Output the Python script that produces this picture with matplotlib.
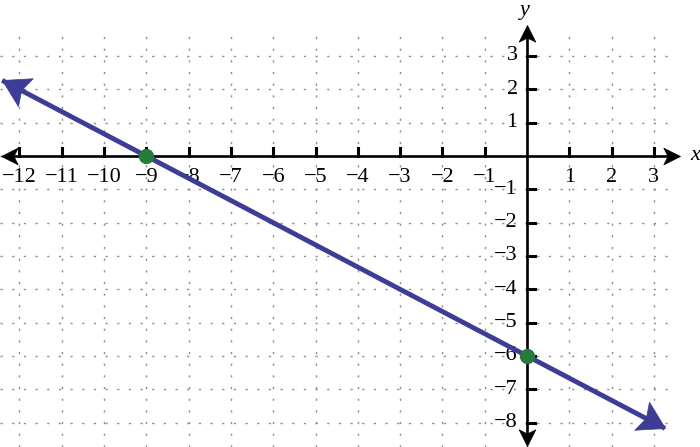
import numpy as np
import matplotlib.pyplot as plt
from matplotlib.path import Path
from matplotlib.markers import MarkerStyle
from matplotlib.transforms import Affine2D

# data
line_x = [-12.41, 3.26]
line_y = [2.27, -8.17]
pts_x = [-9, 0]
pts_y = [0, -6]
xticks = list(range(-12, 4))
yticks = [t for t in range(-8, 4) if t != 0]
xtick_labels = [str(t).replace('-', '\u2212') for t in xticks if t != 0]

LINE_COL = '#3d3d96'
PT_COL = '#267a3a'

fig = plt.figure(figsize=(7, 4.47), dpi=100)
ax = fig.add_axes([0, 0, 1, 1])
ax.set_xlim(-12.46, 4.09)
ax.set_ylim(-8.73, 4.68)
ax.axis('off')

# dotted grid
for xv in xticks:
    ax.plot([xv, xv], [-8.73, 3.63], color='#8e8e8e', lw=1.0, ls=(0, (1.6, 6.8)), zorder=1)
for yv in range(-8, 4):
    ax.plot([-12.46, 3.38], [yv, yv], color='#8e8e8e', lw=1.0, ls=(0, (1.6, 6.8)), zorder=1)

# arrowhead shapes, tip at origin pointing +x
def stealth_path(hw, notch):
    return Path([(0, 0), (-1, hw), (-notch, 0), (-1, -hw), (0, 0)],
                [Path.MOVETO, Path.LINETO, Path.LINETO, Path.LINETO, Path.CLOSEPOLY])

axis_head = stealth_path(0.5, 0.75)
line_head = stealth_path(0.6, 0.82)

def head(x, y, x0, y0, color, size, shape):
    # angle in display space from (x0,y0) to (x,y)
    p1 = ax.transData.transform((x0, y0))
    p2 = ax.transData.transform((x, y))
    ang = np.degrees(np.arctan2(p2[1] - p1[1], p2[0] - p1[0]))
    m = MarkerStyle(shape, transform=Affine2D().rotate_deg(ang))
    ax.plot([x], [y], marker=m, markersize=size, color=color, mec=color, mew=0.5, zorder=6)

# axes
ax.plot([-12.1, 3.3], [0, 0], color='black', lw=1.9, zorder=3)
ax.plot([0, 0], [-8.35, 3.6], color='black', lw=1.9, zorder=3)
head(3.62, 0, 0, 0, 'black', 24, axis_head)
head(-12.44, 0, 0, 0, 'black', 24, axis_head)
head(0, 3.93, 0, 0, 'black', 24, axis_head)
head(0, -8.71, 0, 0, 'black', 24, axis_head)

# tick marks
for xv in xticks:
    if xv != 0:
        ax.plot([xv, xv], [0, 0.25], color='black', lw=2.2, zorder=3)
for yv in yticks:
    ax.plot([0, 0.2], [yv, yv], color='black', lw=2.2, zorder=3)

# tick labels
tfont = dict(family='Liberation Serif', size=16)
for xv, lab in zip([t for t in xticks if t != 0], xtick_labels):
    ax.text(xv, -0.66, lab, ha='center', va='center', **tfont)
for yv in yticks:
    ax.text(-0.22, yv, str(yv).replace('-', '\u2212'), ha='right', va='center', **tfont)

ax.text(3.85, 0, 'x', ha='left', va='center', style='italic', **tfont)
ax.text(-0.05, 4.38, 'y', ha='center', va='center', style='italic', **tfont)

# the line with arrowheads
ax.plot(line_x, line_y, color=LINE_COL, lw=3.5, solid_capstyle='butt', zorder=4)
head(line_x[0], line_y[0], line_x[1], line_y[1], LINE_COL, 38, line_head)
head(line_x[1], line_y[1], line_x[0], line_y[0], LINE_COL, 38, line_head)

ax.plot(pts_x, pts_y, 'o', color=PT_COL, markersize=10, zorder=7)

fig.savefig('out.png', dpi=100)
